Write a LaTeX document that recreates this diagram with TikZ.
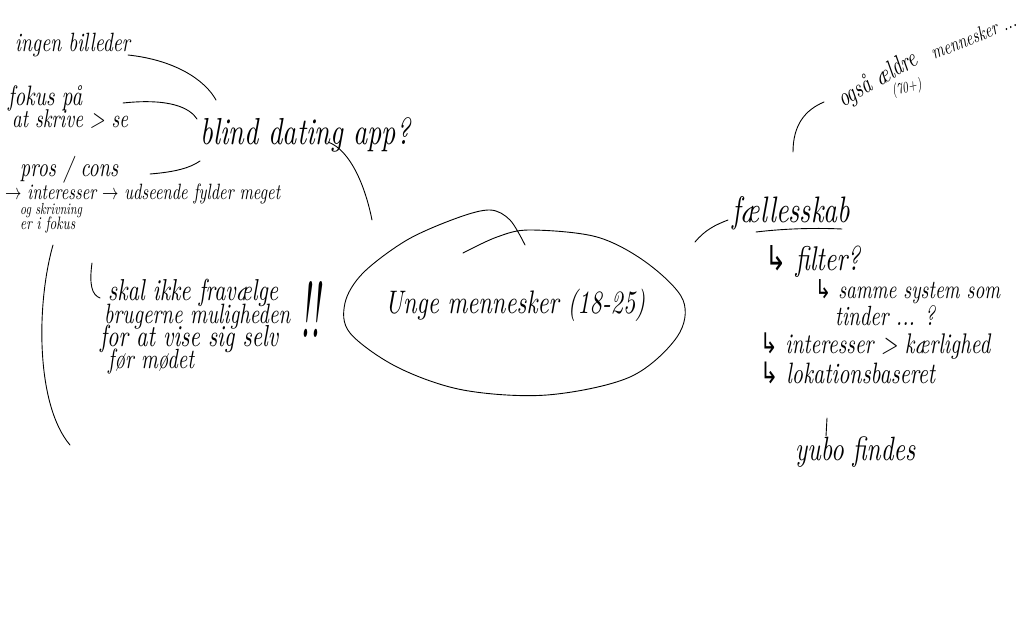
\documentclass[tikz,border=0pt]{standalone}
\usepackage{fontspec}
\usepackage{graphicx}
\newfontfamily\symfont{DejaVu Sans}
% hand-written look: italic, fitted to a width and stretched upward
\newcommand\hw[2]{\scalebox{1}[1.35]{\resizebox{#1pt}{!}{\itshape #2}}}
\tikzset{
  hand/.style={inner sep=0pt, anchor=base west},
  pen/.style={line width=1.1pt, line cap=round, line join=round},
  thinpen/.style={line width=0.9pt, line cap=round, line join=round}
}
\begin{document}
\begin{tikzpicture}[x=1pt,y=-1pt]
\fill[white] (0,0) rectangle (1024,639);
\useasboundingbox (0,0) rectangle (1024,639);

% ---------- left cluster ----------
\node[hand] (ingen)  at (15,52)  {\hw{115}{ingen billeder}};
\node[hand] (fokus1) at (8,106)  {\hw{74}{fokus på}};
\node[hand] (fokus2) at (12,128) {\hw{116}{at skrive > se}};
\node[hand] (pros)   at (20,176) {\hw{98}{pros / cons}};
\node[hand] (inter)  at (5,199)  {\hw{275}{$\rightarrow$ interesser $\rightarrow$ udseende fylder meget}};
\node[hand] (skriv1) at (20,214) {\hw{62}{og skrivning}};
\node[hand] (skriv2) at (20,229) {\hw{55}{er i fokus}};
\node[hand] (blind)  at (200,145) {\hw{210}{blind dating app?}};

\node[hand] (skal1) at (108,300) {\hw{170}{skal ikke fravælge}};
\node[hand] (skal2) at (104,323) {\hw{186}{brugerne muligheden}};
\node[hand] (skal3) at (100,346) {\hw{178}{for at vise sig selv}};
\node[hand] (skal4) at (108,368) {\hw{86}{før mødet}};
\node[hand] (excl)  at (300,337) {\resizebox{20pt}{56pt}{\itshape !!}};

% ---------- centre ----------
\node[hand] (unge) at (385,313) {\hw{260}{Unge mennesker (18-25)}};

% ---------- right cluster ----------
\node[hand, rotate=30] (ogsaa) at (843,108) {\hw{88}{også ældre}};
\node[hand, rotate=22] (menn)  at (934,60)  {\hw{90}{mennesker ...}};
\node[hand, rotate=14] (alder) at (893,96)  {\hw{30}{(70+)}};
\node[hand] (faelles) at (732,222) {\hw{118}{fællesskab}};
\node[hand] (filter)  at (765,270) {\hw{95}{{\symfont ↳} filter?}};
\node[hand] (samme)   at (815,298) {\hw{185}{{\symfont ↳} samme system som}};
\node[hand] (tinder)  at (835,325) {\hw{100}{tinder ... ?}};
\node[hand] (inter2)  at (760,353) {\hw{230}{{\symfont ↳} interesser > kærlighed}};
\node[hand] (lok)     at (760,383) {\hw{175}{{\symfont ↳} lokationsbaseret}};
\node[hand] (yubo)    at (795,460) {\hw{120}{yubo findes}};

% ---------- connector end points ----------
\coordinate (a1) at (128,55);  \coordinate (a2) at (216,100);
\coordinate (b1) at (123,103); \coordinate (b2) at (197,119);
\coordinate (c1) at (150,174); \coordinate (c2) at (200,161);
\coordinate (d1) at (328,142); \coordinate (d2) at (372,220);
\coordinate (e1) at (53,245);  \coordinate (e2) at (70,445);
\coordinate (f1) at (92,263);  \coordinate (f2) at (100,298);
\coordinate (g1) at (695,242); \coordinate (g2) at (728,220);
\coordinate (h1) at (793,152); \coordinate (h2) at (824,102);
\coordinate (i1) at (827,418); \coordinate (i2) at (826,436);
\coordinate (u1) at (756,232); \coordinate (u2) at (842,229);

\draw[thinpen] (a1) .. controls (175,60) and (205,80) .. (a2);
\draw[thinpen] (b1) .. controls (170,98) and (190,108) .. (b2);
\draw[thinpen] (c1) .. controls (175,172) and (190,168) .. (c2);
\draw[thinpen] (d1) .. controls (350,150) and (365,185) .. (d2);
\draw[thinpen] (e1) .. controls (36,305) and (36,405) .. (e2);
\draw[thinpen] (f1) .. controls (89,285) and (92,295) .. (f2);
\draw[thinpen] (g1) .. controls (705,230) and (715,225) .. (g2);
\draw[thinpen] (h1) .. controls (793,125) and (805,110) .. (h2);
\draw[thinpen] (i1) -- (i2);
\draw[thinpen] (u1) .. controls (790,228) and (820,228) .. (u2);

% ---------- hand-drawn ellipse round the centre ----------
\draw[thinpen] plot[smooth, tension=0.55] coordinates {
  (463,253) (497,237) (530,230) (597,237) (647,263) (683,300) (677,337)
  (630,377) (547,395) (463,390) (397,367) (350,333) (345,303) (363,273)
  (407,240) (457,218) (490,210) (510,220) (525,245)};
\end{tikzpicture}
\end{document}
